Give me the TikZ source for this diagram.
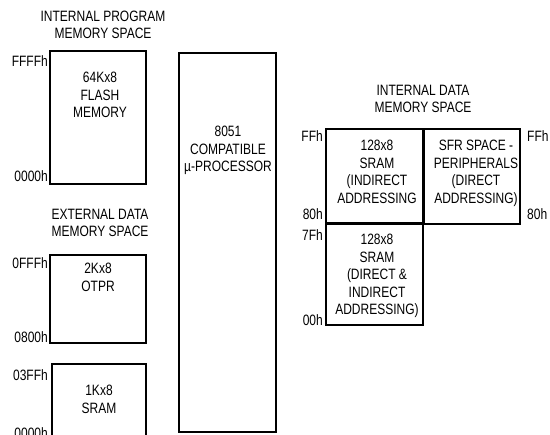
\documentclass[tikz,border=0pt]{standalone}
\usepackage{fontspec}
\setmainfont{Liberation Sans}[FakeStretch=0.8]
\usepackage{tikz}

\tikzset{
  membox/.style={line width=1.8pt},
  memtext/.style={align=center, inner sep=0pt, font=\fontsize{15}{17.5}\selectfont},
  addr/.style={anchor=east, inner sep=0pt, font=\fontsize{15}{17.5}\selectfont},
  addrr/.style={anchor=west, inner sep=0pt, font=\fontsize{15}{17.5}\selectfont}
}

\begin{document}
\begin{tikzpicture}[x=1pt, y=-1pt]
	\useasboundingbox (0,0) rectangle (550,435);
	\clip (0,0) rectangle (550,435);
	% program memory
	\node[memtext] (progtitle) at (103, 25) {INTERNAL PROGRAM\\MEMORY SPACE};
	\draw[membox] (50, 51) rectangle (146, 184);
	\node[memtext, anchor=north] (flash) at (100, 72) {64Kx8\\FLASH\\MEMORY};
	\node[addr] (flashtop) at (48, 61) {FFFFh};
	\node[addr] (flashbot) at (48, 176) {0000h};
	% external data memory
	\node[memtext] (exttitle) at (100, 223) {EXTERNAL DATA\\MEMORY SPACE};
	\draw[membox] (50, 255) rectangle (146, 343);
	\node[memtext, anchor=north] (otpr) at (98, 263) {2Kx8\\OTPR};
	\node[addr] (otprtop) at (48, 263) {0FFFh};
	\node[addr] (otprbot) at (48, 337) {0800h};
	\draw[membox] (52, 364) rectangle (146, 445);
	\node[memtext, anchor=north] (xsram) at (99, 385) {1Kx8\\SRAM};
	\node[addr] (xsramtop) at (48, 375) {03FFh};
	\node[addr] (xsrambot) at (48, 433) {0000h};
	% processor
	\draw[membox] (179, 53) rectangle (276, 432);
	\node[memtext, anchor=north] (cpu) at (228, 126) {8051\\COMPATIBLE\\µ-PROCESSOR};
	% internal data memory
	\node[memtext] (inttitle) at (423, 99) {INTERNAL DATA\\MEMORY SPACE};
	\draw[membox] (326, 129) rectangle (423, 224);
	\draw[membox] (423, 129) rectangle (520, 224);
	\draw[membox] (326, 224) rectangle (423, 325);
	\draw[line width=3pt] (423, 129) -- (423, 224);
	\draw[line width=3pt] (326, 224) -- (423, 224);
	\node[memtext, anchor=north] (upsram) at (377, 140) {128x8\\SRAM\\(INDIRECT\\ADDRESSING};
	\node[memtext, anchor=north] (sfr) at (476, 140) {SFR SPACE -\\PERIPHERALS\\(DIRECT\\ADDRESSING)};
	\node[memtext, anchor=north] (lowsram) at (377, 234) {128x8\\SRAM\\(DIRECT \&\\INDIRECT\\ADDRESSING)};
	\node[addr] (uptop) at (323, 136) {FFh};
	\node[addr] (upbot) at (323, 214) {80h};
	\node[addr] (lowtop) at (323, 235) {7Fh};
	\node[addr] (lowbot) at (323, 320) {00h};
	\node[addrr] (sfrtop) at (527, 136) {FFh};
	\node[addrr] (sfrbot) at (527, 214) {80h};
\end{tikzpicture}
\end{document}
